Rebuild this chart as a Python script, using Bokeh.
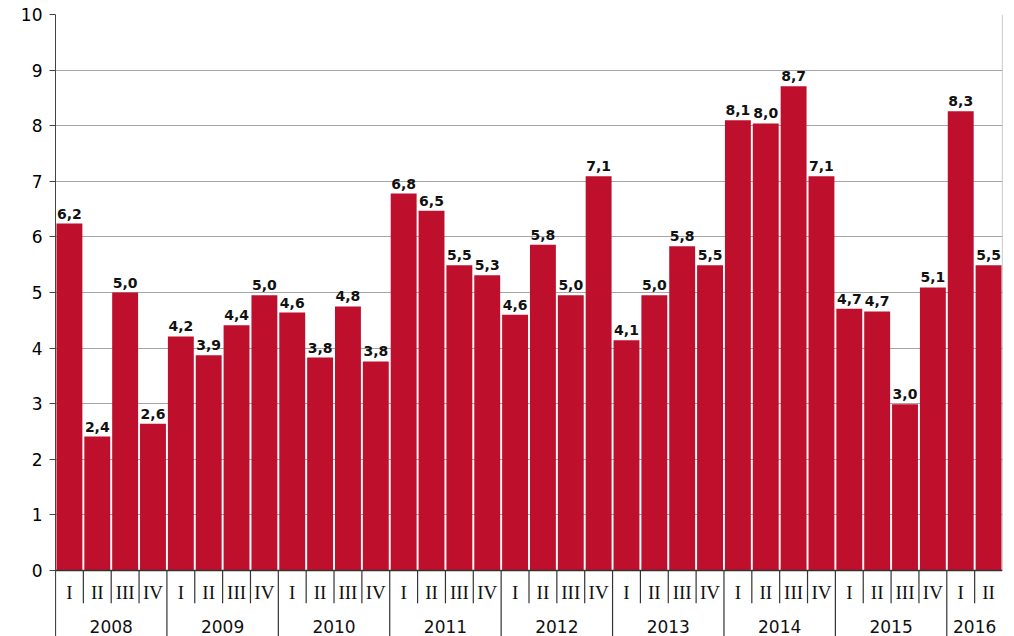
from bokeh.plotting import figure
from bokeh.models import Range1d, FixedTicker, ColumnDataSource
from bokeh.core.properties import value
from bokeh.embed import file_html
from bokeh.resources import INLINE

years = ["2008", "2009", "2010", "2011", "2012", "2013", "2014", "2015", "2016"]
quarters_per_year = [4, 4, 4, 4, 4, 4, 4, 4, 2]
quarter_names = ["I", "II", "III", "IV"]
values = [6.24, 2.41, 5.00, 2.64,
          4.21, 3.87, 4.41, 4.95,
          4.64, 3.83, 4.75, 3.76,
          6.78, 6.47, 5.49, 5.31,
          4.60, 5.86, 4.95, 7.09,
          4.14, 4.95, 5.83, 5.49,
          8.10, 8.04, 8.71, 7.09,
          4.71, 4.66, 2.99, 5.09,
          8.26, 5.49]
labels = ["6,2", "2,4", "5,0", "2,6",
          "4,2", "3,9", "4,4", "5,0",
          "4,6", "3,8", "4,8", "3,8",
          "6,8", "6,5", "5,5", "5,3",
          "4,6", "5,8", "5,0", "7,1",
          "4,1", "5,0", "5,8", "5,5",
          "8,1", "8,0", "8,7", "7,1",
          "4,7", "4,7", "3,0", "5,1",
          "8,3", "5,5"]
y_ticks = list(range(0, 11))

n = len(values)
Y_BOTTOM = -1.187
Q_LABEL_Y = -0.40
Q_SEP_Y = -0.59
YEAR_LABEL_Y = -1.0

xs = [i + 0.5 for i in range(n)]
q_labels = []
year_x = []
year_start = []
pos = 0
for y, cnt in zip(years, quarters_per_year):
    year_start.append(pos)
    year_x.append(pos + cnt / 2)
    for q in range(cnt):
        q_labels.append(quarter_names[q])
    pos += cnt

p = figure(width=1008, height=636, output_backend="svg", toolbar_location=None,
           x_range=Range1d(0, n), y_range=Range1d(Y_BOTTOM, 10),
           min_border_left=55, min_border_right=6, min_border_top=14, min_border_bottom=0)
p.outline_line_color = None
p.xaxis.visible = False
p.xgrid.visible = False
p.ygrid.ticker = FixedTicker(ticks=y_ticks)
p.ygrid.grid_line_color = "#A6A6A6"
p.ygrid.grid_line_width = 1.2

yax = p.yaxis[0]
yax.ticker = FixedTicker(ticks=y_ticks)
yax.axis_line_color = "#444444"
yax.major_tick_line_color = "#444444"
yax.major_tick_out = 6
yax.major_tick_in = 0
yax.minor_tick_line_color = None
yax.major_label_text_font = "DejaVu Sans"
yax.major_label_text_font_size = "17px"
yax.major_label_text_color = "#000000"
yax.major_label_standoff = 7

src = ColumnDataSource(dict(x=xs, top=values, label=labels, q=q_labels))
p.vbar(x="x", top="top", bottom=0, width=0.93, source=src,
       fill_color="#BE0F2D", line_color=None)

# bar value labels
p.text(x="x", y="top", text="label", source=src, y_offset=-5,
       text_align="center", text_baseline="bottom",
       text_font=value("DejaVu Sans"), text_font_style="bold",
       text_font_size="14px", text_color="#111111")

# right border of plot area
p.segment(x0=[n], y0=[0], x1=[n], y1=[10], line_color="#A6A6A6", line_width=1.2)

# x axis line at 0
p.segment(x0=[0], y0=[0], x1=[n], y1=[0], line_color="#333333", line_width=1.3)

# quarter separators
q_sep = [i for i in range(1, n) if i not in year_start]
p.segment(x0=q_sep, y0=[0] * len(q_sep), x1=q_sep, y1=[Q_SEP_Y] * len(q_sep),
          line_color="#333333", line_width=1.2)
# year separators
p.segment(x0=year_start, y0=[0] * len(year_start), x1=year_start,
          y1=[Y_BOTTOM] * len(year_start), line_color="#333333", line_width=1.2)

# quarter labels
p.text(x="x", y=Q_LABEL_Y, text="q", source=src, text_align="center",
       text_baseline="middle", text_font=value("Liberation Serif"),
       text_font_size="19px", text_color="#111111")

# year labels
p.text(x=year_x, y=[YEAR_LABEL_Y] * len(years), text=years, text_align="center",
       text_baseline="middle", text_font=value("DejaVu Sans"),
       text_font_size="17px", text_color="#111111")

open("out.html", "w").write(file_html(p, INLINE))
